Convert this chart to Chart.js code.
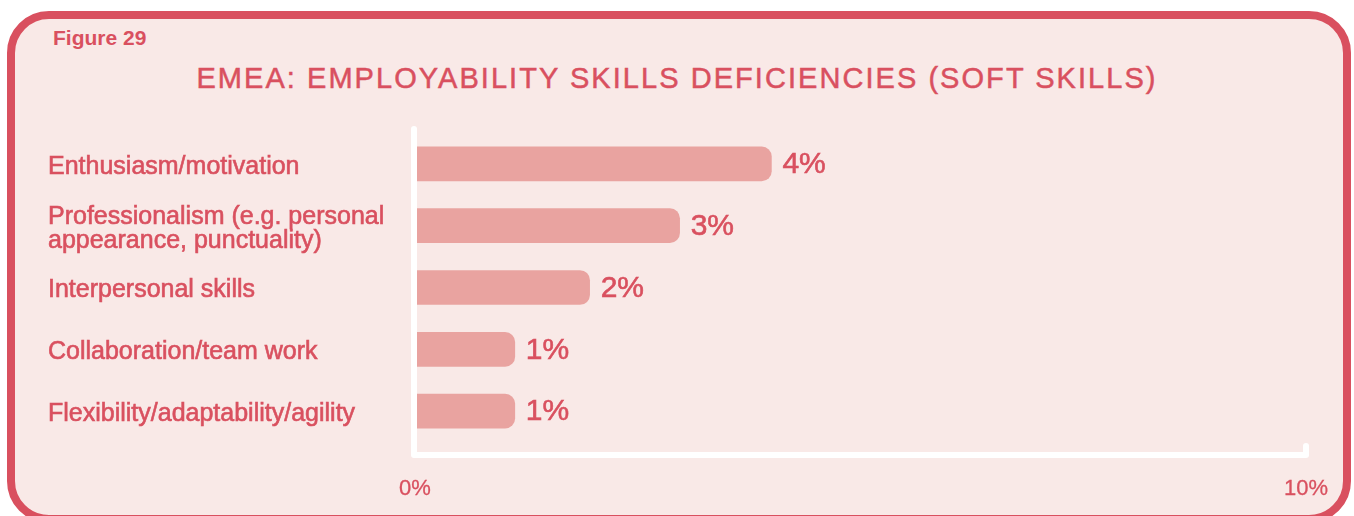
<!doctype html>
<html lang="en">
  <head>
    <meta charset="utf-8">
    <title>EMEA: Employability skills deficiencies (soft skills)</title>
    <style>
        body{
            margin: 0;
            width: 1354px;
            height: 516px;
            overflow: hidden;
            background: #ffffff;
            font-family: "Liberation Sans", Arial, sans-serif;
        }
        .card{
            position: absolute;
            left: 7px;
            top: 11px;
            width: 1344px;
            height: 512px;
            box-sizing: border-box;
            border: 8px solid #d9505f;
            border-radius: 42px;
            background: #f9e9e7;
        }
        .fig{
            position: absolute;
            left: 53px;
            top: 27px;
            font-size: 21px;
            line-height: 21px;
            font-weight: bold;
            color: #d9505f;
        }
        .title{
            position: absolute;
            left: 0;
            top: 64px;
            width: 1354px;
            text-align: center;
            font-size: 29px;
            line-height: 29px;
            letter-spacing: 2.05px;
            color: #d9505f;
            -webkit-text-stroke: 0.5px #d9505f;
        }
        #myChart_Bar{
            position: absolute;
            left: 0;
            top: 0;
        }
    </style>
  </head>
  <body>
    <div class="card"></div>
    <div class="fig">Figure 29</div>
    <div class="title">EMEA: EMPLOYABILITY SKILLS DEFICIENCIES (SOFT SKILLS)</div>
    <canvas id="myChart_Bar" width="1354" height="516"></canvas>

    <script src="https://cdn.jsdelivr.net/npm/chart.js"></script>
    <script>
        // data
        const categories = [
            'Enthusiasm/motivation',
            ['Professionalism (e.g. personal', 'appearance, punctuality)'],
            'Interpersonal skills',
            'Collaboration/team work',
            'Flexibility/adaptability/agility'
        ];
        const values = [4.0, 2.97, 1.96, 1.12, 1.12];
        const valueLabels = ['4%', '3%', '2%', '1%', '1%'];
        const xTicks = [0, 10];

        const red = '#d9505f';
        const barColor = '#e9a3a0';

        // white axis lines with the little tick at the right end
        const axisLines = {
            id: 'axisLines',
            afterDatasetsDraw(chart){
                const ctx = chart.ctx;
                const area = chart.chartArea;
                const x = chart.scales.x;
                const x0 = x.getPixelForValue(xTicks[0]) - 1;
                const x1 = x.getPixelForValue(xTicks[xTicks.length - 1]);
                const yb = area.bottom + 13;
                ctx.save();
                ctx.strokeStyle = '#ffffff';
                ctx.lineWidth = 6;
                ctx.lineCap = 'round';
                ctx.lineJoin = 'round';
                ctx.beginPath();
                ctx.moveTo(x0, area.top - 4);
                ctx.lineTo(x0, yb);
                ctx.lineTo(x1, yb);
                ctx.moveTo(x1, yb);
                ctx.lineTo(x1, yb - 9);
                ctx.stroke();
                ctx.restore();
            }
        };

        // value labels at the end of each bar
        const barLabels = {
            id: 'barLabels',
            afterDatasetsDraw(chart){
                const ctx = chart.ctx;
                const meta = chart.getDatasetMeta(0);
                ctx.save();
                ctx.font = '30px "Liberation Sans", Arial, sans-serif';
                ctx.fillStyle = red;
                ctx.strokeStyle = red;
                ctx.lineWidth = 0.6;
                ctx.textAlign = 'left';
                ctx.textBaseline = 'middle';
                meta.data.forEach(function(bar, i){
                    ctx.strokeText(valueLabels[i], bar.x + 11, bar.y + 1);
                    ctx.fillText(valueLabels[i], bar.x + 11, bar.y + 1);
                });
                ctx.restore();
            }
        };

        const data = {
            labels: categories,
            datasets: [{
                data: values,
                backgroundColor: barColor,
                borderWidth: 0,
                borderRadius: 10,
                barThickness: 34
            }]
        };

        const config = {
            type: 'bar',
            data: data,
            options: {
                indexAxis: 'y',
                responsive: false,
                animation: false,
                layout: {
                    padding: {left: 48, right: 48, top: 133, bottom: 0}
                },
                plugins: {
                    legend: {display: false},
                    tooltip: {enabled: false}
                },
                scales: {
                    x: {
                        min: 0,
                        max: 10,
                        grid: {display: false, drawTicks: false},
                        border: {display: false},
                        afterFit: function(scale){
                            scale.height = 74;
                            scale.paddingLeft = 0;
                            scale.paddingRight = 0;
                        },
                        afterBuildTicks: function(scale){
                            scale.ticks = xTicks.map(function(v){ return {value: v}; });
                        },
                        ticks: {
                            padding: 34,
                            color: red,
                            textStrokeColor: red,
                            textStrokeWidth: 0.3,
                            font: {family: '"Liberation Sans", Arial, sans-serif', size: 22, lineHeight: 1.2},
                            callback: function(v){ return v + '%'; }
                        }
                    },
                    y: {
                        grid: {display: false, drawTicks: false},
                        border: {display: false},
                        afterFit: function(scale){ scale.width = 367; },
                        ticks: {
                            crossAlign: 'far',
                            labelOffset: 3,
                            color: red,
                            textStrokeColor: red,
                            textStrokeWidth: 0.6,
                            font: {family: '"Liberation Sans", Arial, sans-serif', size: 25, lineHeight: 0.96}
                        }
                    }
                }
            },
            plugins: [axisLines, barLabels]
        };

        const myChart = new Chart(document.getElementById('myChart_Bar'), config);
    </script>
  </body>
</html>
